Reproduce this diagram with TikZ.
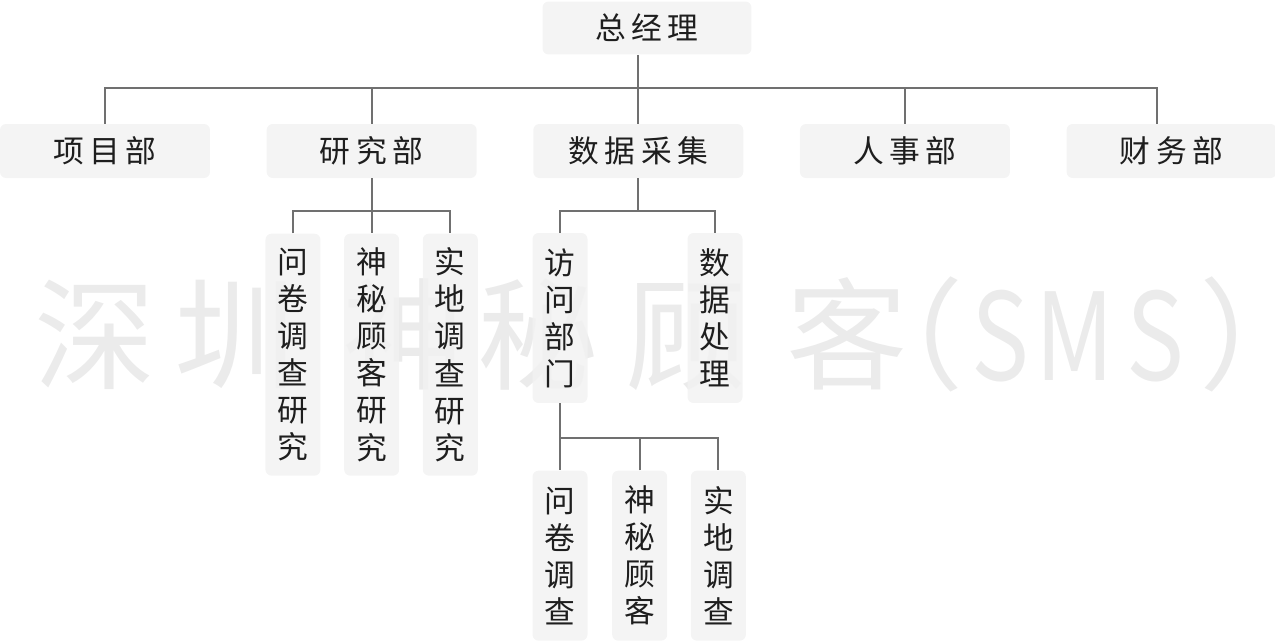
\documentclass[tikz,border=0pt]{standalone}
\usepackage{fontspec}
\setmainfont{Noto Sans CJK SC}
\newfontfamily\spaced[LetterSpace=18]{Noto Sans CJK SC}
\usetikzlibrary{positioning}
\definecolor{boxgray}{HTML}{F2F2F2}
\definecolor{linegray}{HTML}{707070}
\definecolor{markgray}{HTML}{EBEBEB}
\definecolor{inkblack}{HTML}{1E1E1E}

\begin{document}
\begin{tikzpicture}[x=0.02cm, y=-0.02cm,
        box/.style={rectangle, rounded corners=0.12cm, fill=boxgray, fill opacity=0.85, text opacity=1, text=inkblack, minimum width=4.2cm, minimum height=1.08cm, inner sep=0pt, font=\spaced\fontsize{17.5}{21}\selectfont},
        vbox/.style={rectangle, rounded corners=0.12cm, fill=boxgray, fill opacity=0.85, text opacity=1, text=inkblack, minimum width=1.1cm, inner sep=0pt, align=center, font=\fontsize{17.5}{21.1}\selectfont},
        conn/.style={draw=linegray, line width=1.1pt},
        wmtext/.style={text=markgray, anchor=base, inner sep=0pt, font=\fontsize{69}{69}\selectfont}
    ]
        \useasboundingbox (0,0) rectangle (1275,643);

        % watermark behind everything
        \foreach \ch/\px [count=\i] in {深/95, 圳/235, 神/403, 秘/538, 顾/686, 客/847, （/903, ）/1260}
            \node[wmtext] (wm\i) at (\px,380) {\ch};
        \foreach \ch/\px [count=\i] in {S/1000, M/1075, S/1155}
            \node[wmtext] (wl\i) at (\px,380) {\scalebox{0.8}[1]{\ch}};

        \node[box, minimum width=4.18cm, minimum height=1.06cm] (gm) at (647,28) {总经理};

        \node[box] (proj) at (105,151) {项目部};
        \node[box, right=1.12cm of proj] (research) {研究部};
        \node[box, right=1.12cm of research] (data) {数据采集};
        \node[box, right=1.12cm of data] (hr) {人事部};
        \node[box, right=1.12cm of hr] (fin) {财务部};

        \node[vbox, minimum height=4.84cm, below=1.1cm of research] (rm) {神\\秘\\顾\\客\\研\\究};
        \node[vbox, minimum height=4.84cm, left=0.46cm of rm] (rq) {问\\卷\\调\\查\\研\\究};
        \node[vbox, minimum height=4.84cm, right=0.46cm of rm] (rf) {实\\地\\调\\查\\研\\究};

        \node[vbox, minimum height=3.4cm] (visit) at (560,318) {访\\问\\部\\门};
        \node[vbox, minimum height=3.4cm] (proc) at (715,318) {数\\据\\处\\理};

        \node[vbox, minimum height=3.4cm, below=1.34cm of visit] (vq) {问\\卷\\调\\查};
        \node[vbox, minimum height=3.4cm, right=0.48cm of vq] (vm) {神\\秘\\顾\\客};
        \node[vbox, minimum height=3.4cm, right=0.46cm of vm] (vf) {实\\地\\调\\查};

        \coordinate (bus) at (0,88);
        \coordinate (sub) at (0,211);
        \coordinate (subv) at (0,438);
        \coordinate (finin) at (1157,124);

        % top level
        \draw[conn] (gm.south -| data.north) -- (data.north);
        \draw[conn] (proj.north) -- (proj.north |- bus) -- (bus -| finin) -- (finin);
        \draw[conn] (research.north) -- (research.north |- bus);
        \draw[conn] (hr.north) -- (hr.north |- bus);

        % research
        \draw[conn] (research.south) -- (rm.north);
        \draw[conn] (rq.north) -- (rq.north |- sub) -- (rf.north |- sub) -- (rf.north);

        % data collection
        \draw[conn] (data.south) -- (data.south |- sub);
        \draw[conn] (visit.north) -- (visit.north |- sub) -- (proc.north |- sub) -- (proc.north);

        % interview department
        \draw[conn] (visit.south) -- (vq.north);
        \draw[conn] (vq.north |- subv) -- (vf.north |- subv) -- (vf.north);
        \draw[conn] (vm.north) -- (vm.north |- subv);
    \end{tikzpicture}
\end{document}
